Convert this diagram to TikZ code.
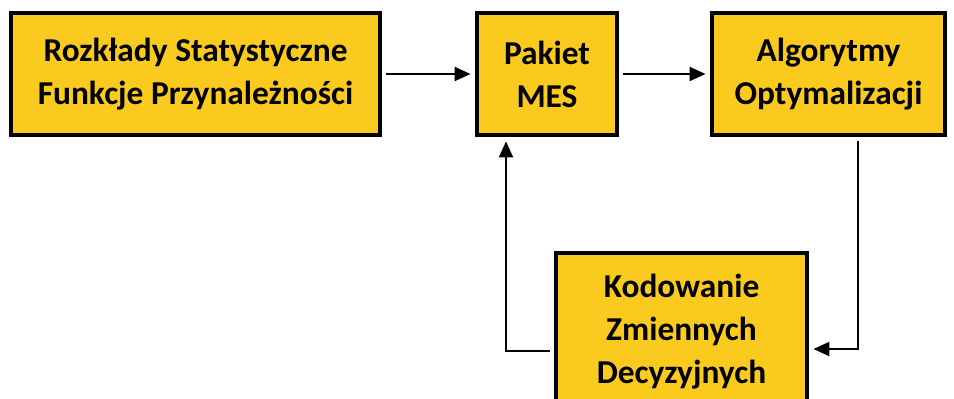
\documentclass[tikz,border=0pt]{standalone}
\usepackage{fontspec}
\setmainfont{Carlito}
\usetikzlibrary{arrows.meta}
\definecolor{blokzolty}{RGB}{250,203,30}
\begin{document}
\begin{tikzpicture}[
  blok/.style={draw, line width=2.2pt, fill=blokzolty, align=center, inner sep=0pt,
    font=\fontsize{19}{24.4}\selectfont\bfseries},
  strz/.style={line width=1.2pt, -{Triangle[length=0.32cm, width=0.28cm]},
    shorten >=0.09cm, shorten <=0.09cm}]
\clip (0,0) rectangle (19.08,7.96);
% bloki
\node[blok, minimum width=7.38cm, minimum height=2.44cm] (rozk) at (3.91,6.48){Rozkłady Statystyczne\\Funkcje Przynależności};
\node[blok, minimum width=2.8cm, minimum height=2.44cm] (mes) at (10.94,6.48){Pakiet\\MES};
\node[blok, minimum width=4.66cm, minimum height=2.44cm] (opt) at (16.57,6.48){Algorytmy\\Optymalizacji};
\node[blok, minimum width=5.02cm, minimum height=3.14cm] (kod) at (13.63,1.33){Kodowanie\\Zmiennych\\Decyzyjnych};
% punkty zalamania
\coordinate (zal1) at (17.16,0.98);
\coordinate (zal2) at (10.12,0.94);
% strzalki
\draw[strz](rozk) -- (mes);
\draw[strz](mes) -- (opt);
\draw[strz](opt.south -| zal1) -- (zal1) -- (kod.east |- zal1);
\draw[strz](kod.west |- zal2) -- (zal2) -- (mes.south -| zal2);
\end{tikzpicture}
\end{document}
